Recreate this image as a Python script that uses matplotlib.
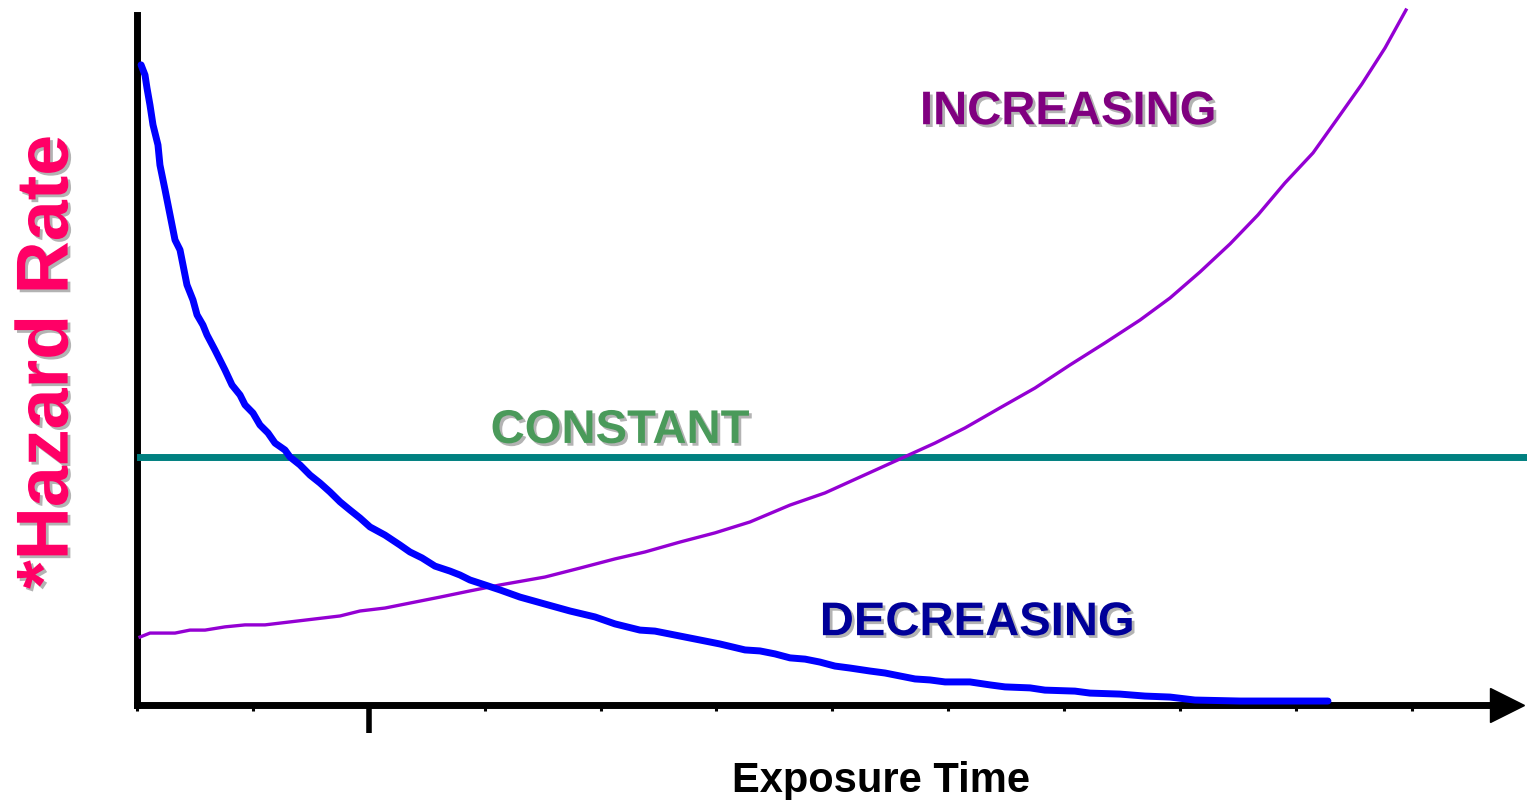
import matplotlib
matplotlib.use("Agg")
import matplotlib.pyplot as plt
import matplotlib.patheffects as pe

plt.rcParams['font.family'] = ['Liberation Sans', 'DejaVu Sans']

# decreasing hazard (time units, hazard units)
dec_t = [0.035, 0.069, 0.086, 0.112, 0.138, 0.181, 0.198, 0.242, 0.285, 0.328,
         0.371, 0.397, 0.431, 0.483, 0.518, 0.569, 0.604, 0.673, 0.759, 0.820,
         0.889, 0.932, 1.001, 1.061, 1.130, 1.191, 1.277, 1.320, 1.406, 1.493,
         1.579, 1.665, 1.752, 1.838, 1.924, 2.010, 2.140, 2.269, 2.355, 2.459,
         2.571, 2.700, 2.787, 2.873, 3.003, 3.132, 3.305, 3.520, 3.736, 3.952,
         4.124, 4.340, 4.469, 4.599, 4.858, 5.030, 5.246, 5.375, 5.505, 5.634,
         5.764, 5.893, 6.022, 6.152, 6.324, 6.454, 6.583, 6.713, 6.842, 6.972,
         7.187, 7.360, 7.489, 7.705, 7.834, 8.093, 8.223, 8.481, 8.697, 8.913,
         9.128, 9.517, 10.034, 10.276]
dec_h = [25.81, 25.40, 24.88, 24.19, 23.39, 22.58, 21.77, 20.77, 19.76, 18.75,
         18.35, 17.74, 16.94, 16.33, 15.73, 15.32, 14.92, 14.31, 13.51, 12.90,
         12.50, 12.10, 11.77, 11.29, 10.97, 10.56, 10.28, 10.00, 9.68, 9.27,
         8.95, 8.59, 8.19, 7.86, 7.54, 7.18, 6.85, 6.45, 6.17, 5.93,
         5.60, 5.40, 5.24, 5.04, 4.84, 4.64, 4.35, 4.07, 3.79, 3.55,
         3.27, 3.02, 2.98, 2.86, 2.62, 2.46, 2.22, 2.18, 2.06, 1.90,
         1.85, 1.73, 1.57, 1.49, 1.37, 1.29, 1.17, 1.05, 1.01, 0.93,
         0.93, 0.81, 0.73, 0.69, 0.60, 0.56, 0.48, 0.44, 0.36, 0.32,
         0.20, 0.16, 0.16, 0.16]

# increasing hazard
inc_t = [0.026, 0.112, 0.328, 0.457, 0.587, 0.759, 0.932, 1.104, 1.320, 1.536,
         1.752, 1.924, 2.140, 2.355, 2.614, 2.873, 3.132, 3.520, 3.822, 4.124,
         4.383, 4.685, 4.987, 5.289, 5.634, 5.936, 6.238, 6.583, 6.885, 7.144,
         7.446, 7.748, 8.050, 8.352, 8.654, 8.913, 9.172, 9.431, 9.672, 9.905,
         10.147, 10.362, 10.569, 10.768, 10.949]
inc_h = [2.74, 2.90, 2.90, 3.02, 3.02, 3.15, 3.23, 3.23, 3.35, 3.47,
         3.59, 3.79, 3.91, 4.11, 4.35, 4.60, 4.84, 5.16, 5.52, 5.89,
         6.17, 6.57, 6.94, 7.38, 8.06, 8.55, 9.19, 9.92, 10.56, 11.17,
         11.98, 12.78, 13.71, 14.60, 15.52, 16.41, 17.46, 18.59, 19.76, 21.05,
         22.26, 23.67, 25.04, 26.49, 28.02]

# constant hazard
const_t = [0.026, 11.976]
const_h = [10, 10]

tick_pos = list(range(12))

fig = plt.figure(figsize=(15.27, 8), dpi=100)
ax = fig.add_axes([137 / 1527, 95 / 800, 1353 / 1527, 690 / 800])
ax.set_xlim(0, 11.674)
ax.set_ylim(0, 27.82)

for s in ['top', 'right']:
    ax.spines[s].set_visible(False)
for s in ['left', 'bottom']:
    ax.spines[s].set_linewidth(5)
    ax.spines[s].set_color('black')

ax.set_yticks([])
ax.set_xticks(tick_pos)
ax.set_xticklabels([])
ax.tick_params(axis='x', length=4.5, width=2.2, direction='out', color='black')
big = ax.xaxis.get_major_ticks()[2]
big.tick1line.set_markersize(20)
big.tick1line.set_markeredgewidth(4)

# arrow head at end of time axis
ax.plot([11.82], [0], marker='>', markersize=25, color='black', clip_on=False, zorder=5)

ax.plot(const_t, const_h, color='#008080', linewidth=5, clip_on=False, zorder=3)
ax.plot(inc_t, inc_h, color='#9400D3', linewidth=2.4, clip_on=False, zorder=4)
ax.plot(dec_t, dec_h, color='#0000FF', linewidth=5, clip_on=False, zorder=6,
        solid_capstyle='round')

shadow = [pe.SimplePatchShadow(offset=(2, -2), shadow_rgbFace='#a0a0a0', alpha=0.8), pe.Normal()]

ax.text(8.033, 23.9, 'INCREASING', color='#800080', fontsize=34, fontweight='bold',
        ha='center', va='center', path_effects=shadow)
ax.text(4.167, 11.05, 'CONSTANT', color='#4A9A5A', fontsize=34, fontweight='bold',
        ha='center', va='center', path_effects=shadow)
ax.text(7.248, 3.3, 'DECREASING', color='#000099', fontsize=34, fontweight='bold',
        ha='center', va='center', path_effects=shadow)

fig.text(0.0315, 0.5475, '*Hazard Rate', color='#FF0066', fontsize=53, fontweight='bold',
         rotation=90, ha='center', va='center', path_effects=shadow)
fig.text(0.577, 0.024, 'Exposure Time', color='black', fontsize=30, fontweight='bold',
         ha='center', va='center')

fig.savefig('out.png', dpi=100)
